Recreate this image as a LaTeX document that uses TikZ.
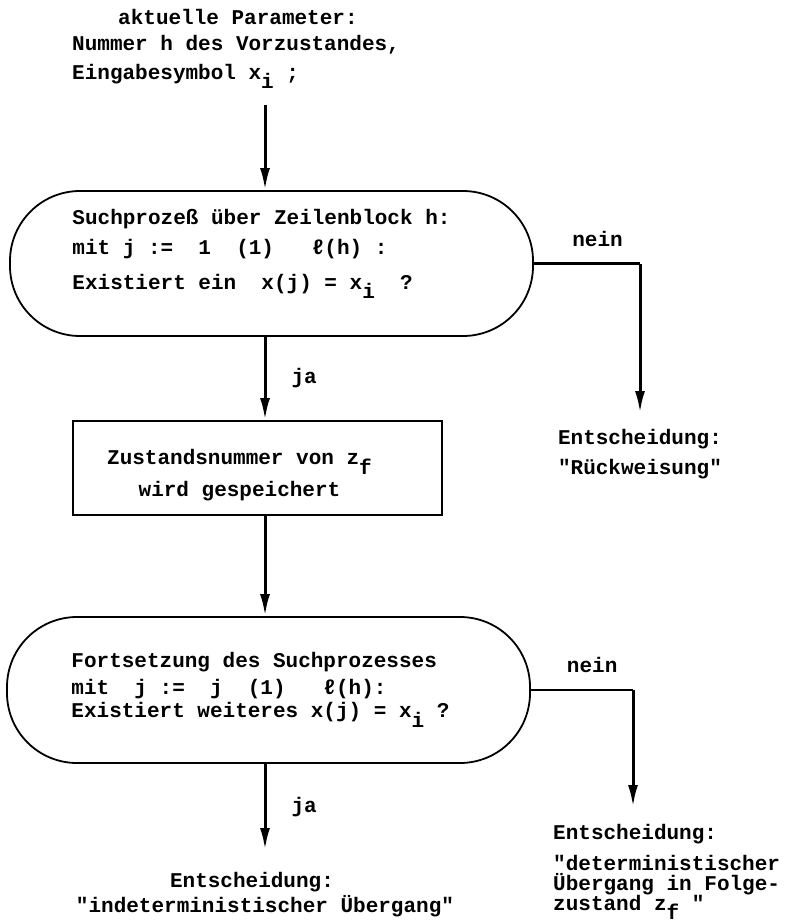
\documentclass[tikz,border=0pt]{standalone}
\usepackage{fontspec}
\setmonofont{Liberation Mono}
\usepackage{tikz}
\usetikzlibrary{arrows.meta, calc, positioning}

\newcommand{\tief}[1]{\raisebox{-0.45em}{#1}}

\begin{document}
\begin{tikzpicture}[x=1pt, y=-1pt,
      every node/.style={font=\ttfamily\bfseries\fontsize{21}{28}\selectfont},
      ablauf/.style={draw, line width=1.8pt, rounded corners=70pt, minimum width=523pt, minimum height=145pt, align=left},
      kasten/.style={draw, line width=1.8pt, minimum width=369pt, minimum height=94pt, align=center},
      pfeil/.style={line width=3pt, -{Latex[length=22pt, width=10pt]}},
      ast/.style={line width=2.2pt}]

      \useasboundingbox (0,0) rectangle (790,923);

% Parameter
      \node[align=left, anchor=north west, inner sep=0pt] (param) at (72,9)
        {\hspace*{46pt}aktuelle Parameter:\\[-2pt] Nummer h des Vorzustandes,\\[1pt] Eingabesymbol x\tief{i} ;};
      \coordinate (mitte) at (265,105);

% Suchprozess
      \node[ablauf] (such) at (271.5,263.5)
        {Suchprozeß über Zeilenblock h:\hspace*{20pt}\\[2pt] mit j :=~~1~~(1)~~~ℓ(h)~:\\[7pt] Existiert ein~~x(j) = x\tief{i}~~?\rule[-29pt]{0pt}{0pt}};

% Zustandsnummer
      \node[kasten] (zust) at (257.5,468)
        {\rule{0pt}{30pt}Zustandsnummer von z\tief{f}\hspace*{36pt}\\[4pt] wird gespeichert\hspace*{36pt}};

% Fortsetzung
      \node[ablauf, minimum height=146pt] (fort) at (268.5,690)
        {Fortsetzung des Suchprozesses\\[-1pt] mit~~j~:=~~j~~(1)~~~ℓ(h):\\[-5pt] Existiert weiteres x(j) = x\tief{i} ?\hspace*{16pt}};

% Entscheidungen
      \node[align=center, anchor=north, inner xsep=0pt, inner ysep=16pt] (rueck) at (640,413)
        {Entscheidung:\\[2pt] "Rückweisung"};
      \node[align=center, anchor=north, inner xsep=0pt, inner ysep=22pt] (indet) at (265,850)
        {Entscheidung:\hspace*{26pt}\\[-3pt] "indeterministischer Übergang"};
      \node[align=left, anchor=north west, inner xsep=0pt, inner ysep=17pt] (det) at (553,807)
        {Entscheidung:\\[3pt] "deterministischer\\[-8pt] Übergang in Folge-\\[-8pt] zustand z\tief{f} "};

      \coordinate (nein1) at (640,263.5);
      \coordinate (nein2) at (633,690);

% Arrows
      \draw[pfeil] (mitte) -- (mitte |- such.north);
      \draw[pfeil] (mitte |- such.south) -- node[right=25pt, inner sep=0pt] {ja} (mitte |- zust.north);
      \draw[pfeil] (mitte |- zust.south) -- (mitte |- fort.north);
      \draw[pfeil] (mitte |- fort.south) -- node[right=25pt, inner sep=0pt] {ja} (mitte |- indet.north);
      \draw[ast] (such.east) -- node[above=16pt, pos=0.6, inner sep=0pt] {nein} (nein1);
      \draw[pfeil] (nein1) -- (rueck.north);
      \draw[ast] (fort.east) -- node[above=16pt, pos=0.6, inner sep=0pt] {nein} (nein2);
      \draw[pfeil] (nein2) -- (nein2 |- det.north);

    \end{tikzpicture}
\end{document}
